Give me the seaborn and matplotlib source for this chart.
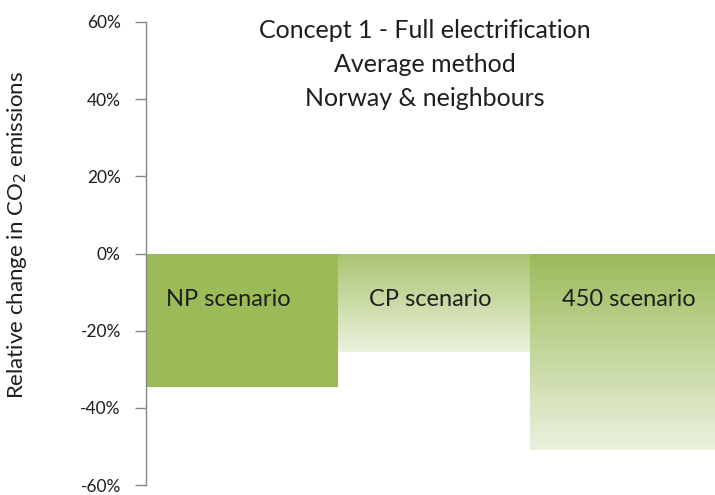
import matplotlib
matplotlib.use("Agg")
import matplotlib.pyplot as plt
import matplotlib.colors as mcolors
import numpy as np
import pandas as pd
import seaborn as sns

categories = ["NP scenario", "CP scenario", "450 scenario"]
values = [-34.5, -25.5, -51.0]
yticks = [-60, -40, -20, 0, 20, 40, 60]
title_lines = ["Concept 1 - Full electrification", "Average method", "Norway & neighbours"]

sns.set_theme(style="white")
plt.rcParams['font.family'] = ['Lato', 'DejaVu Sans']

df = pd.DataFrame({"scenario": categories, "value": values})

fig = plt.figure(figsize=(7.15, 4.95), dpi=100)
ax = fig.add_axes([0.204, 0.02, 0.796, 0.9356])
sns.barplot(data=df, x="scenario", y="value", width=1.0, color="#9BBB59",
            saturation=1, ax=ax, linewidth=0)

# gradients
grads = [None, ("#a9c46f", "#ebf1de"), ("#9BBB59", "#ebf1de")]
for patch, g in zip(ax.patches, grads):
    if g is None:
        continue
    x0 = patch.get_x(); w = patch.get_width()
    y0 = patch.get_y(); h = patch.get_height()
    ytop = max(y0, y0 + h); ybot = min(y0, y0 + h)
    c1 = np.array(mcolors.to_rgb(g[0])); c2 = np.array(mcolors.to_rgb(g[1]))
    t = np.linspace(0, 1, 256)[:, None]
    img = (c1 * (1 - t) + c2 * t)[:, None, :]
    im = ax.imshow(img, extent=[x0, x0 + w, ybot, ytop], origin="upper",
                   aspect="auto", zorder=patch.get_zorder())
    im.set_clip_path(patch)
    patch.set_facecolor("none")
ax.set_xlim(-0.5, 2.46)
ax.set_ylim(-60, 60)

label_dx = [-0.07, -0.02, 0.01]
for i, c in enumerate(categories):
    ax.text(i + label_dx[i], -12, c, ha="center", va="center", fontsize=17,
            color="#1e1e1e")

for k, line in enumerate(title_lines):
    fig.text(0.594, 1 - (30 + 34 * k) / 495, line, ha="center", va="center",
             fontsize=18, color="#1e1e1e")

ax.set_yticks(yticks)
ax.set_yticklabels([f"{v}%" for v in yticks], fontsize=12.5, color="#1e1e1e")
ax.set_xticks([])
ax.set_xlabel("")
ax.set_ylabel("Relative change in CO$_2$ emissions", fontsize=16, color="#1e1e1e")
ax.yaxis.set_label_coords(-0.205, 0.54)
for s in ["top", "right", "bottom"]:
    ax.spines[s].set_visible(False)
ax.spines["left"].set_color("#868686")
ax.spines["left"].set_linewidth(1.0)
ax.tick_params(axis="y", left=True, length=8, width=1.0, color="#868686", pad=10)

fig.savefig("out.png", dpi=100)
